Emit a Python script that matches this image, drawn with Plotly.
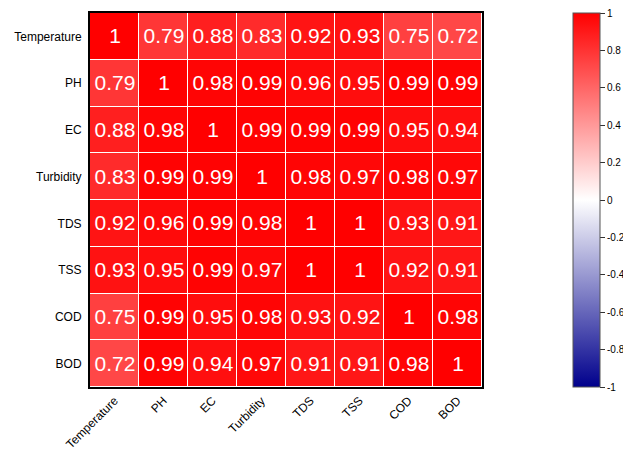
import plotly.graph_objects as go

# Water-quality parameters and their pairwise correlation coefficients
params = ["Temperature", "PH", "EC", "Turbidity", "TDS", "TSS", "COD", "BOD"]

temperature = [1, 0.79, 0.88, 0.83, 0.92, 0.93, 0.75, 0.72]
ph          = [0.79, 1, 0.98, 0.99, 0.96, 0.95, 0.99, 0.99]
ec          = [0.88, 0.98, 1, 0.99, 0.99, 0.99, 0.95, 0.94]
turbidity   = [0.83, 0.99, 0.99, 1, 0.98, 0.97, 0.98, 0.97]
tds         = [0.92, 0.96, 0.99, 0.98, 1, 1, 0.93, 0.91]
tss         = [0.93, 0.95, 0.99, 0.97, 1, 1, 0.92, 0.91]
cod         = [0.75, 0.99, 0.95, 0.98, 0.93, 0.92, 1, 0.98]
bod         = [0.72, 0.99, 0.94, 0.97, 0.91, 0.91, 0.98, 1]

cbar_ticks = [1, 0.8, 0.6, 0.4, 0.2, 0, -0.2, -0.4, -0.6, -0.8, -1]

z = [temperature, ph, ec, turbidity, tds, tss, cod, bod]
labels = [[f"{v:g}" for v in row] for row in z]

FONT = "Liberation Sans, Arial, sans-serif"

fig = go.Figure(
    go.Heatmap(
        z=z,
        x=params,
        y=params,
        zmin=-1,
        zmax=1,
        colorscale=[[0, "rgb(0,0,140)"], [0.5, "rgb(255,255,255)"], [1, "rgb(255,0,0)"]],
        text=labels,
        texttemplate="%{text}",
        textfont=dict(family=FONT, size=21, color="white"),
        xgap=1,
        ygap=1,
        colorbar=dict(
            x=(573 - 90) / 392,
            xanchor="left",
            y=0.5,
            yanchor="middle",
            len=1.0,
            lenmode="fraction",
            thickness=27,
            ypad=0,
            xpad=0,
            outlinewidth=1,
            outlinecolor="#555555",
            tickmode="array",
            tickvals=cbar_ticks,
            ticktext=[f"{t:g}" for t in cbar_ticks],
            ticks="outside",
            ticklen=5,
            tickcolor="#333333",
            tickfont=dict(family=FONT, size=10, color="black"),
        ),
        hoverinfo="skip",
    )
)

axis_common = dict(
    showline=True,
    linecolor="black",
    linewidth=2,
    mirror=True,
    showgrid=False,
    zeroline=False,
    ticks="",
    automargin=False,
    tickfont=dict(family=FONT, size=12, color="black"),
)

fig.update_xaxes(tickangle=-45, **axis_common)
fig.update_yaxes(autorange="reversed", ticklabelstandoff=4, **axis_common)

fig.update_layout(
    width=623,
    height=450,
    margin=dict(l=90, r=141, t=13, b=63, autoexpand=False),
    paper_bgcolor="white",
    plot_bgcolor="rgba(255,255,255,0.6)",
)

fig.write_html("out.html")
